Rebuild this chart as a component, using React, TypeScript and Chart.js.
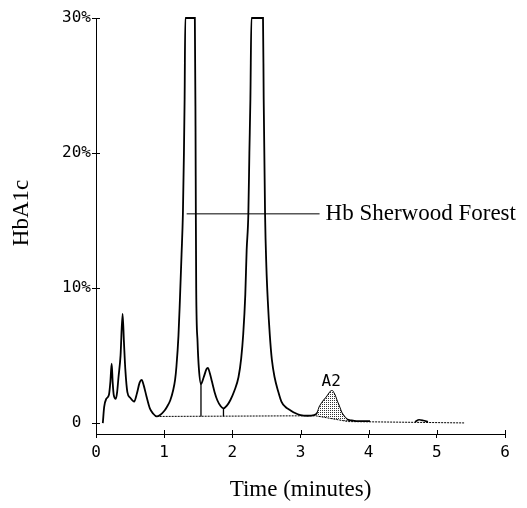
import React, { useEffect, useRef } from "react";
import { Chart, registerables } from "chart.js";

Chart.register(...registerables);

// Chromatogram trace (time in minutes, HbA1c %)
const TIME = [
  0.10, 0.12, 0.15, 0.19, 0.21, 0.23, 0.245, 0.26, 0.29, 0.31, 0.33, 0.36, 0.39, 0.41, 0.43, 0.46,
  0.50, 0.56, 0.60, 0.64, 0.67, 0.70, 0.74, 0.79, 0.84, 0.89, 0.94, 1.00, 1.04, 1.09, 1.13, 1.16,
  1.18, 1.21, 1.23, 1.255, 1.275, 1.29, 1.30, 1.31, 1.45, 1.46, 1.465, 1.47, 1.49, 1.51, 1.54, 1.58,
  1.62, 1.64, 1.67, 1.70, 1.74, 1.78, 1.83, 1.87, 1.92, 1.97, 2.03, 2.09, 2.13, 2.16, 2.19, 2.21,
  2.235, 2.25, 2.265, 2.28, 2.45, 2.46, 2.48, 2.50, 2.52, 2.55, 2.58, 2.62, 2.67, 2.72, 2.78, 2.84,
  2.92, 3.00, 3.10, 3.20, 3.25, 3.28, 3.33, 3.38, 3.42, 3.46, 3.50, 3.53, 3.57, 3.60, 3.64, 3.68,
  3.75, 3.82, 3.92, 4.02,
];
const HBA1C = [
  0.0, 1.2, 1.8, 2.1, 3.0, 4.4, 3.0, 2.1, 1.8, 2.3, 3.4, 5.0, 8.1, 6.0, 4.0, 2.3,
  1.9, 1.6, 2.2, 3.0, 3.2, 2.8, 2.0, 1.1, 0.7, 0.5, 0.6, 0.9, 1.2, 1.7, 2.4, 3.2,
  4.2, 6.5, 9.0, 12.5, 15.5, 20.0, 24.0, 30.0, 30.0, 22.0, 15.0, 10.0, 6.0, 4.0, 2.9, 3.4,
  4.0, 4.1, 3.7, 3.1, 2.3, 1.7, 1.25, 1.1, 1.3, 1.7, 2.4, 3.4, 4.8, 6.6, 9.5, 12.8,
  15.5, 20.0, 24.0, 30.0, 30.0, 24.0, 15.5, 11.5, 9.1, 6.5, 4.7, 3.4, 2.4, 1.6, 1.2, 1.0,
  0.75, 0.6, 0.55, 0.6, 0.8, 1.2, 1.6, 1.9, 2.2, 2.4, 2.1, 1.7, 1.2, 0.8, 0.5, 0.3,
  0.2, 0.15, 0.15, 0.15,
];

// small late bump
const BUMP_TIME = [4.68, 4.74, 4.80, 4.87];
const BUMP_VAL = [0.1, 0.25, 0.2, 0.1];

// integration baseline (dotted)
const BASE_TIME = [0.89, 3.22, 3.70, 5.40];
const BASE_VAL = [0.5, 0.55, 0.12, 0.02];

// A2 shaded region limits
const A2_START = 3.25;
const A2_END = 3.68;
const A2_LABEL_TIME = 3.45;
const A2_LABEL_VAL = 2.4;

// peak split drop lines
const DROP_TIME = [1.54, 1.87];
const DROP_TOP = [2.9, 1.1];
const DROP_BOTTOM = [0.5, 0.5];

// annotation
const ANNOT_TEXT = "Hb Sherwood Forest";
const ANNOT_START = 1.33;
const ANNOT_END = 3.28;
const ANNOT_VAL = 15.5;

const Y_TICKS = [0, 10, 20, 30];
const X_TITLE = "Time (minutes)";
const Y_TITLE = "HbA1c";

const MONO = "'DejaVu Sans Mono', monospace";
const SERIF = "'Liberation Serif', 'Times New Roman', serif";

export default function App() {
  const ref = useRef<HTMLCanvasElement | null>(null);

  useEffect(() => {
    const canvas = ref.current;
    if (!canvas) return;
    const ctx = canvas.getContext("2d")!;

    const pc = document.createElement("canvas");
    pc.width = 2;
    pc.height = 2;
    const pctx = pc.getContext("2d")!;
    pctx.fillStyle = "#ffffff";
    pctx.fillRect(0, 0, 2, 2);
    pctx.fillStyle = "#333333";
    pctx.fillRect(0, 0, 1, 1);
    const pattern = ctx.createPattern(pc, "repeat");

    const curve = TIME.map((t, i) => ({ x: t, y: HBA1C[i] }));
    const a2 = curve.filter((p) => p.x >= A2_START && p.x <= A2_END);
    const base = BASE_TIME.map((t, i) => ({ x: t, y: BASE_VAL[i] }));
    const bump = BUMP_TIME.map((t, i) => ({ x: t, y: BUMP_VAL[i] }));

    const lineBase = {
      pointRadius: 0,
      borderColor: "#000",
      fill: false,
      clip: false as any,
    };

    const datasets: any[] = [
      { ...lineBase, data: base, borderWidth: 1, borderDash: [2, 1] },
      {
        ...lineBase,
        data: a2,
        borderWidth: 0,
        fill: 0,
        backgroundColor: pattern,
        cubicInterpolationMode: "monotone",
      },
      { ...lineBase, data: curve, borderWidth: 1.8, cubicInterpolationMode: "monotone" },
      { ...lineBase, data: bump, borderWidth: 1.6, cubicInterpolationMode: "monotone" },
      {
        ...lineBase,
        data: [
          { x: ANNOT_START, y: ANNOT_VAL },
          { x: ANNOT_END, y: ANNOT_VAL },
        ],
        borderWidth: 1,
      },
      ...DROP_TIME.map((t, i) => ({
        ...lineBase,
        data: [
          { x: t, y: DROP_TOP[i] },
          { x: t, y: DROP_BOTTOM[i] },
        ],
        borderWidth: 1.3,
      })),
    ];

    const decor = {
      id: "decor",
      afterDraw(chart: any) {
        const c = chart.ctx;
        const xs = chart.scales.x;
        const ys = chart.scales.y;
        const area = chart.chartArea;
        c.save();
        c.strokeStyle = "#000";
        c.lineWidth = 1;
        // inner halves of tick marks
        c.beginPath();
        for (let v = 0; v <= 6; v++) {
          const px = Math.round(xs.getPixelForValue(v)) + 0.5;
          c.moveTo(px, area.bottom);
          c.lineTo(px, area.bottom - 4);
        }
        Y_TICKS.forEach((v) => {
          const py = Math.round(ys.getPixelForValue(v)) + 0.5;
          c.moveTo(area.left, py);
          c.lineTo(area.left + 4, py);
        });
        c.stroke();

        c.fillStyle = "#000";
        // annotation text
        c.font = `23px ${SERIF}`;
        c.textAlign = "left";
        c.textBaseline = "middle";
        c.fillText(ANNOT_TEXT, xs.getPixelForValue(ANNOT_END) + 6, ys.getPixelForValue(ANNOT_VAL));

        // A2 label
        c.font = `16px ${MONO}`;
        c.textAlign = "center";
        c.textBaseline = "bottom";
        c.fillText("A2", xs.getPixelForValue(A2_LABEL_TIME), ys.getPixelForValue(A2_LABEL_VAL) - 1);

        // x title
        c.font = `23px ${SERIF}`;
        c.textAlign = "center";
        c.textBaseline = "middle";
        c.fillText(X_TITLE, (area.left + area.right) / 2, 490);

        // y title
        c.translate(22, 213);
        c.rotate(-Math.PI / 2);
        c.fillText(Y_TITLE, 0, 0);
        c.restore();
      },
    };

    const chart = new Chart(ctx, {
      type: "line",
      data: { datasets },
      options: {
        animation: false,
        responsive: false,
        maintainAspectRatio: false,
        parsing: false as any,
        normalized: true,
        layout: { padding: { left: 0, top: 18, right: 22, bottom: 0 } },
        plugins: {
          legend: { display: false },
          tooltip: { enabled: false },
          filler: { propagate: false },
        },
        scales: {
          x: {
            type: "linear",
            min: 0,
            max: 6,
            border: { display: true, color: "#000", width: 1 },
            grid: { drawOnChartArea: false, color: "#000", tickLength: 4, tickWidth: 1 },
            ticks: {
              stepSize: 1,
              padding: 5,
              color: "#000",
              font: { family: MONO, size: 16 },
              maxRotation: 0,
              callback: (v: any) => String(v),
            },
            afterFit: (s: any) => {
              s.height = 74;
            },
          },
          y: {
            type: "linear",
            min: -0.8,
            max: 30,
            border: { display: true, color: "#000", width: 1 },
            grid: { drawOnChartArea: false, color: "#000", tickLength: 4, tickWidth: 1 },
            afterBuildTicks: (s: any) => {
              s.ticks = Y_TICKS.map((v) => ({ value: v }));
            },
            ticks: {
              padding: 1,
              color: "#000",
              font: { family: MONO, size: 16 },
              callback: (v: any) => (v === 0 ? "0 " : `${v}%`),
            },
            afterFit: (s: any) => {
              s.width = 96;
            },
          },
        },
      },
      plugins: [decor],
    });

    return () => chart.destroy();
  }, []);

  return (
    <div
      style={{
        position: "fixed",
        left: 0,
        top: 0,
        width: 527,
        height: 508,
        background: "#fff",
      }}
    >
      <canvas ref={ref} width={527} height={508} style={{ display: "block" }} />
    </div>
  );
}
